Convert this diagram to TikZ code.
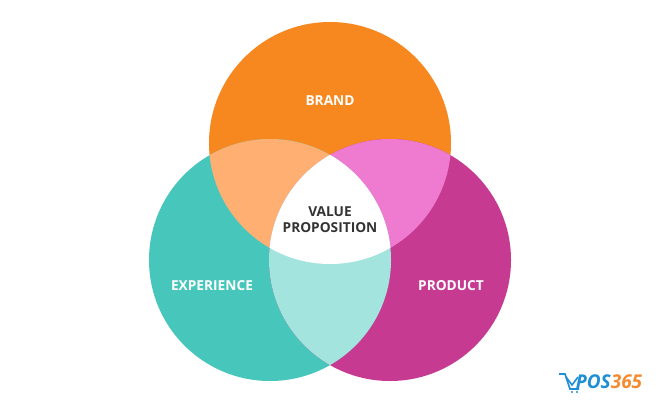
\documentclass[tikz,border=0pt]{standalone}
\usepackage{fontspec}
\setmainfont{Open Sans}
\definecolor{brandcol}{HTML}{F78820}
\definecolor{expcol}{HTML}{47C7BC}
\definecolor{prodcol}{HTML}{C73A92}
\definecolor{brandexp}{HTML}{FFAF72}
\definecolor{brandprod}{HTML}{EE7BD0}
\definecolor{expprod}{HTML}{A3E4DE}
\definecolor{logoblue}{HTML}{1E8FD5}
\definecolor{logoorange}{HTML}{F58A2E}
\tikzset{
  lbl/.style={font=\fontsize{13.7}{16}\selectfont\bfseries, text=white, align=center},
}
\begin{document}
\begin{tikzpicture}[x=1pt,y=-1pt]
  \useasboundingbox (0,0) rectangle (660,404);
  \fill[white] (0,0) rectangle (660,404);
  \def\brandc{(330,143) circle (121pt)}
  \def\expc{(270,260) circle (121pt)}
  \def\prodc{(390,260) circle (121pt)}
  \fill[brandcol] \brandc;
  \fill[expcol] \expc;
  \fill[prodcol] \prodc;
  \begin{scope}
    \clip \brandc;
    \fill[brandexp] \expc;
    \fill[brandprod] \prodc;
  \end{scope}
  \begin{scope}
    \clip \expc;
    \fill[expprod] \prodc;
  \end{scope}
  \begin{scope}
    \clip \brandc;
    \clip \expc;
    \fill[white] \prodc;
  \end{scope}
  \node[lbl] (brand) at (330,100.7) {BRAND};
  \node[lbl] (experience) at (212,285.7) {EXPERIENCE};
  \node[lbl] (product) at (451,285.7) {PRODUCT};
  \node[lbl, text=black!80] (value) at (330,220) {VALUE\\PROPOSITION};
  % logo
  \draw[logoblue, line width=1.6pt] (559,374) -- (565,374) -- (570,389) -- (579,389);
  \draw[logoblue, line width=1.6pt] (566,377) -- (572,385) -- (578,377);
  \fill[logoblue] (572,392) circle (1.2pt) (577,392) circle (1.2pt);
  \node[inner sep=0pt, font=\fontsize{19}{19}\selectfont\bfseries\itshape] (logo) at (609,382)
    {\textcolor{logoblue}{POS}\textcolor{logoorange}{365}};
\end{tikzpicture}
\end{document}
